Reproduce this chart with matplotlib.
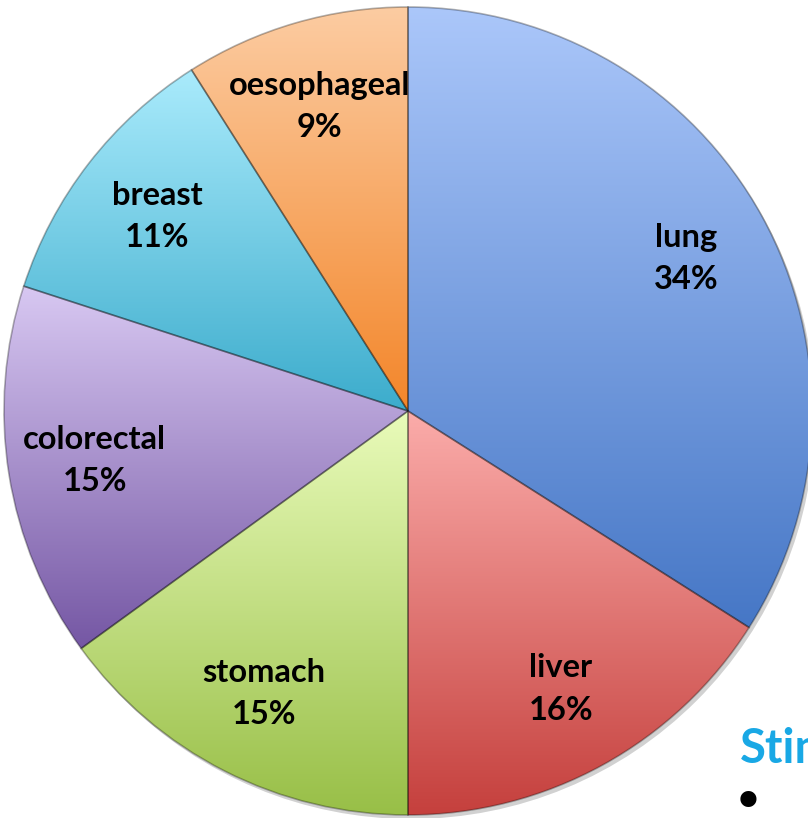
import matplotlib
matplotlib.use("Agg")
import matplotlib.pyplot as plt
import numpy as np
from matplotlib.colors import LinearSegmentedColormap
from matplotlib.patches import Circle

# cancer deaths share by type
labels = ['lung', 'liver', 'stomach', 'colorectal', 'breast', 'oesophageal']
shares = [34, 16, 15, 15, 11, 9]

top_colors = ['#abc7fa', '#fbacaa', '#e9fbba', '#d8c8f2', '#aaebfc', '#fccca2']
bottom_colors = ['#4677c6', '#c5403d', '#98bf47', '#7557a4', '#3caccc', '#f3862a']

plt.rcParams['font.family'] = ['Lato', 'DejaVu Sans']

W, H = 808, 818
fig = plt.figure(figsize=(W / 100, H / 100), dpi=100)
ax = fig.add_axes([0, 0, 1, 1])

cx, cy, R = 408, H - 411, 404

# soft drop shadow
ax.add_patch(Circle((cx + 3, cy - 4), R, color='#000000', alpha=0.18, zorder=1, lw=0))

wedges, _ = ax.pie(shares, startangle=90, counterclock=False,
                   center=(cx, cy), radius=R,
                   wedgeprops=dict(facecolor='none', edgecolor=(0, 0, 0, 0.3), linewidth=1.2))

grad = np.linspace(0, 1, 256).reshape(-1, 1)
for w, c_top, c_bot, name, val in zip(wedges, top_colors, bottom_colors, labels, shares):
    w.set_zorder(3)
    verts = w.get_path().vertices
    x0, x1 = verts[:, 0].min(), verts[:, 0].max()
    y0, y1 = verts[:, 1].min(), verts[:, 1].max()
    cmap = LinearSegmentedColormap.from_list(name, [c_bot, c_top])
    im = ax.imshow(grad, cmap=cmap, origin='lower', extent=(x0, x1, y0, y1),
                   aspect='auto', zorder=2, interpolation='bilinear')
    im.set_clip_path(w)

    mid = np.deg2rad((w.theta1 + w.theta2) / 2)
    tx = cx + 0.785 * R * np.cos(mid)
    ty = cy + 0.785 * R * np.sin(mid)
    ax.text(tx, ty, f"{name}\n{val}%", ha='center', va='center', fontsize=23.5,
            fontweight='bold', linespacing=1.55, zorder=5)

# slide text peeking in at the corner
ax.text(740, H - 763, 'Stim', color='#19a8e5', fontsize=34, fontweight='bold',
        ha='left', va='baseline', zorder=5)
ax.text(748, H - 805, '\u2022', color='black', fontsize=40, ha='center', va='center',
        family='DejaVu Sans', zorder=5)

ax.set_xlim(0, W)
ax.set_ylim(0, H)
ax.set_aspect('equal')
ax.axis('off')

fig.savefig('out.png', dpi=100)
